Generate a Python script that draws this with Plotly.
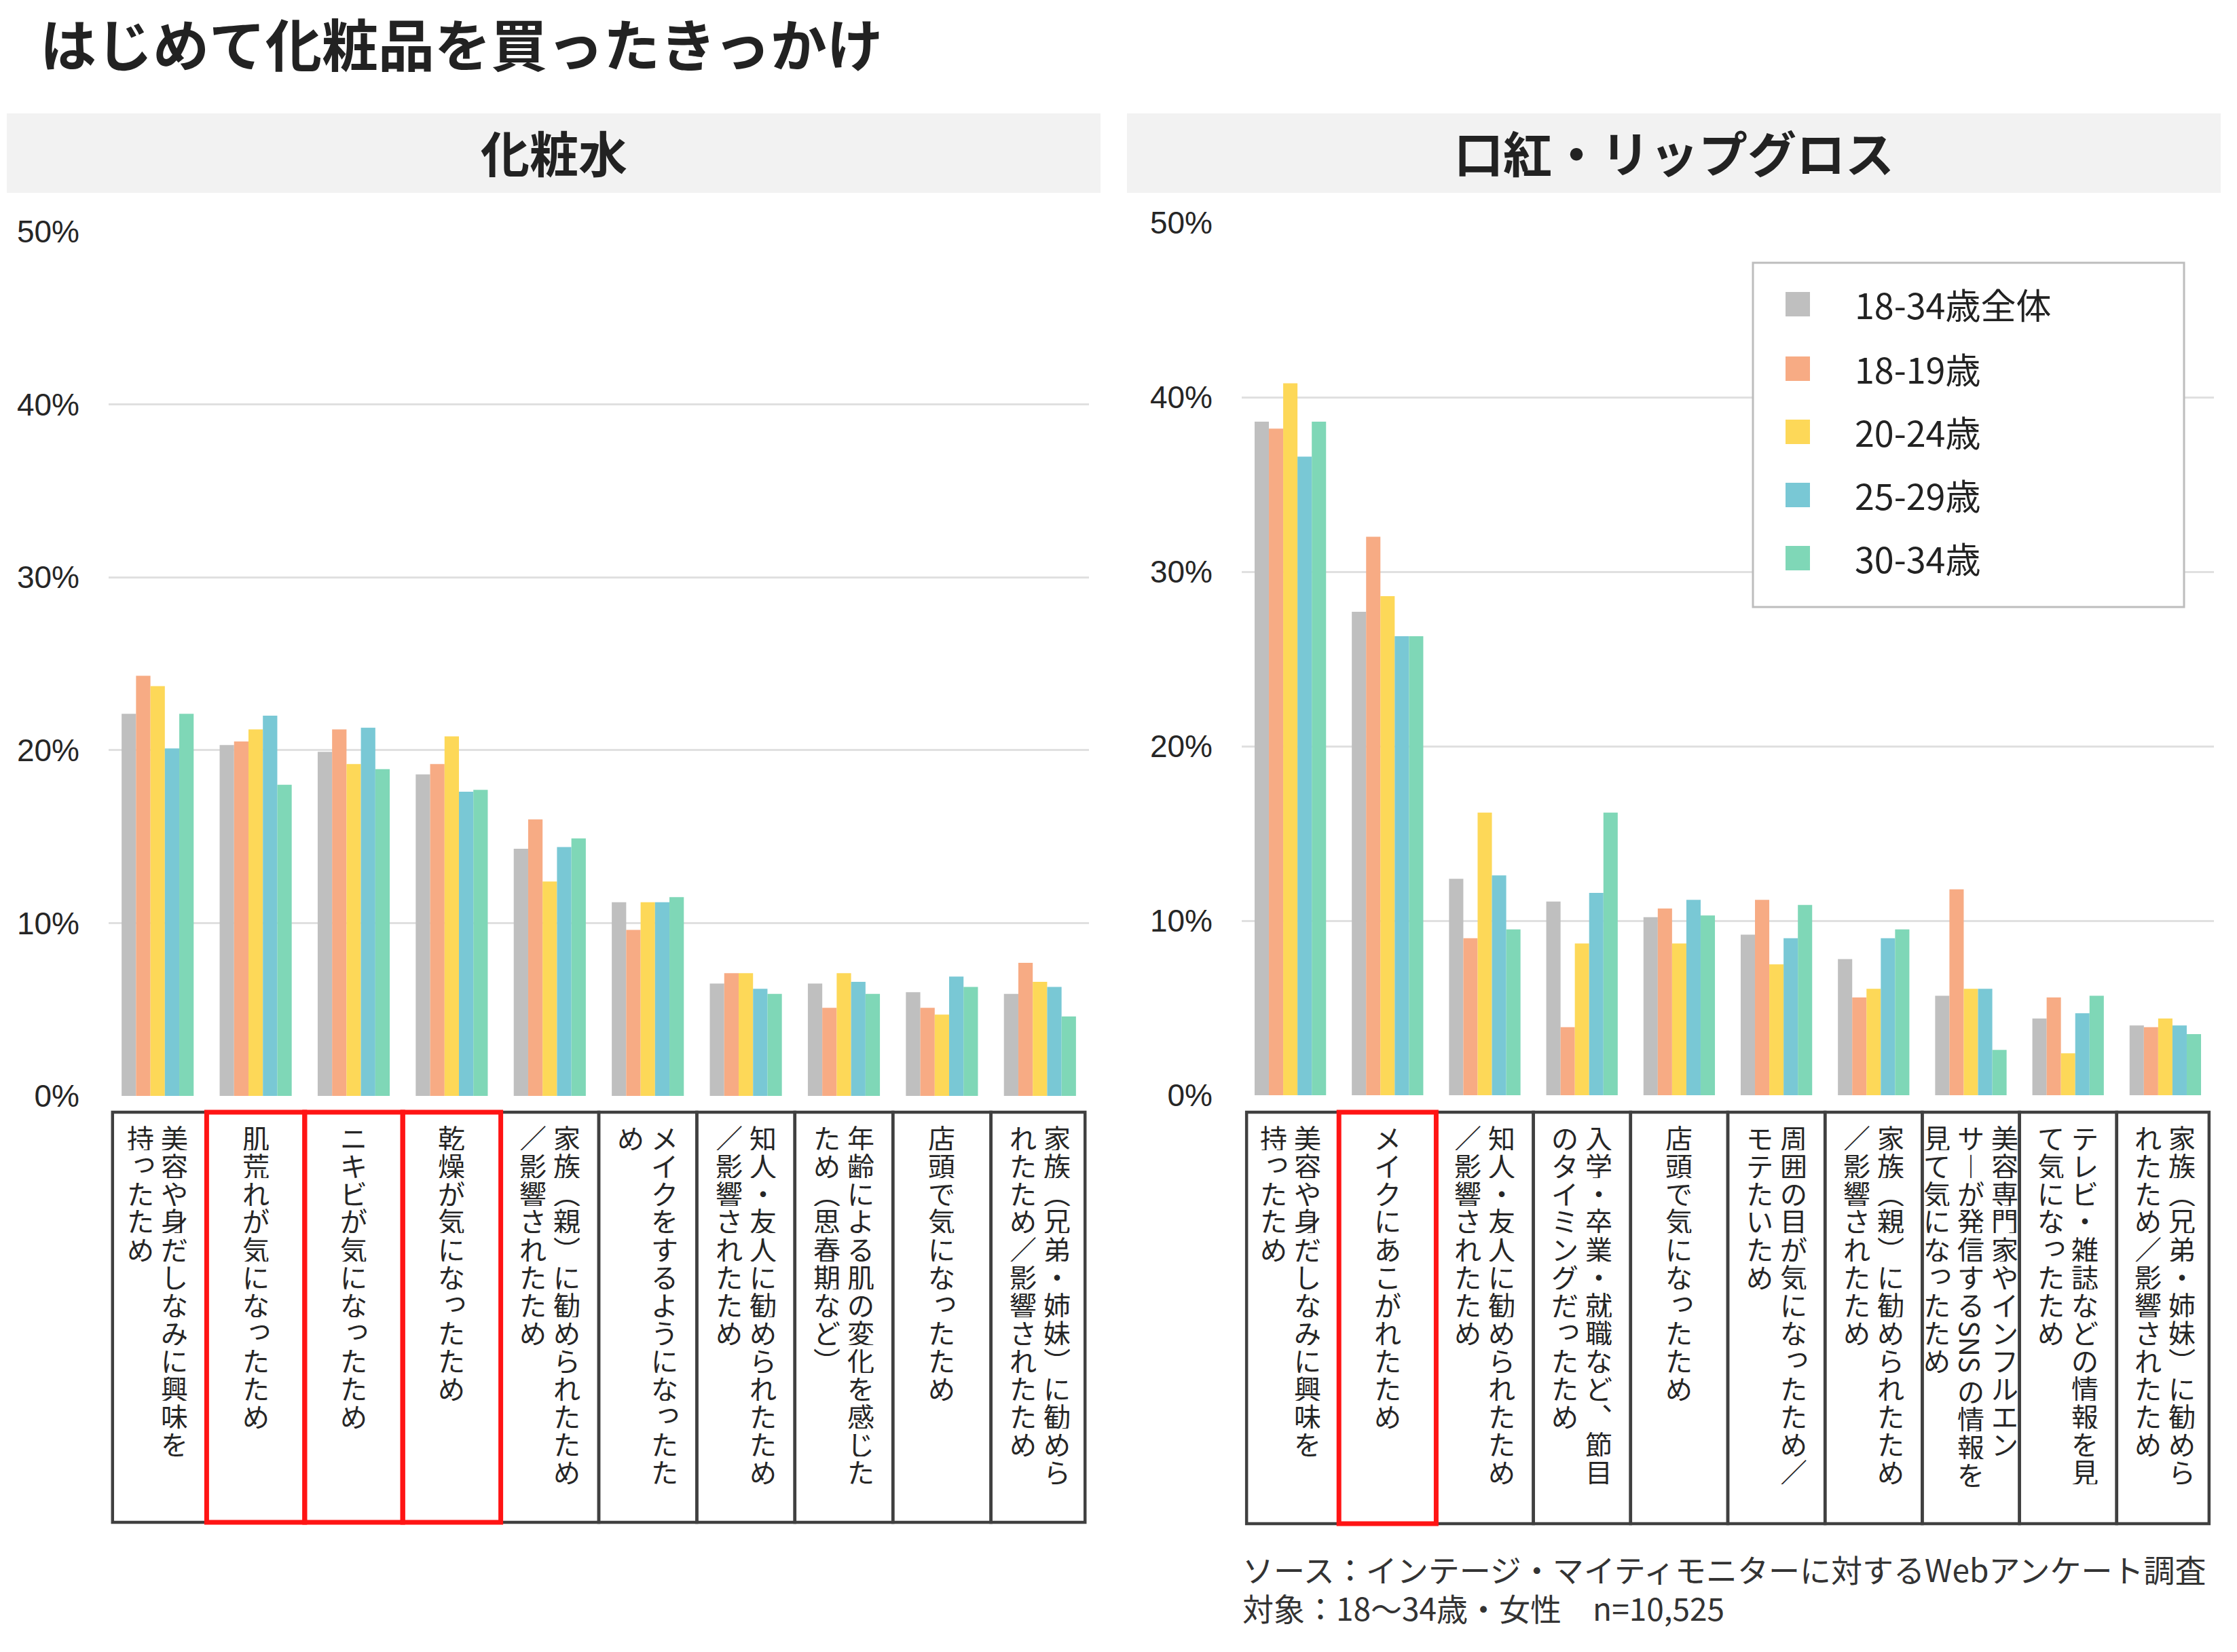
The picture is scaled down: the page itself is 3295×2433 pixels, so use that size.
import plotly.graph_objects as go

# ---------------- data ----------------
series_names = ["18-34歳全体", "18-19歳", "20-24歳", "25-29歳", "30-34歳"]
series_colors = ["#bfbfbf", "#f7ab84", "#fdd858", "#79c8d5", "#7fd7b7"]

left_title = "化粧水"
right_title = "口紅・リップグロス"

left_categories = [
    "美容や身だしなみに興味を\n持ったため",
    "肌荒れが気になったため",
    "ニキビが気になったため",
    "乾燥が気になったため",
    "家族（親）に勧められたため\n／影響されたため",
    "メイクをするようになったた\nめ",
    "知人・友人に勧められたため\n／影響されたため",
    "年齢による肌の変化を感じた\nため（思春期など）",
    "店頭で気になったため",
    "家族（兄弟・姉妹）に勧めら\nれたため／影響されたため",
]
right_categories = [
    "美容や身だしなみに興味を\n持ったため",
    "メイクにあこがれたため",
    "知人・友人に勧められたため\n／影響されたため",
    "入学・卒業・就職など、節目\nのタイミングだったため",
    "店頭で気になったため",
    "周囲の目が気になったため／\nモテたいため",
    "家族（親）に勧められたため\n／影響されたため",
    "美容専門家やインフルエン\nサーが発信するSNSの情報を\n見て気になったため",
    "テレビ・雑誌などの情報を見\nて気になったため",
    "家族（兄弟・姉妹）に勧めら\nれたため／影響されたため",
]

left_all   = [22.1, 20.3, 19.9, 18.6, 14.3, 11.2, 6.5, 6.5, 6.0, 5.9]
left_1819  = [24.3, 20.5, 21.2, 19.2, 16.0, 9.6, 7.1, 5.1, 5.1, 7.7]
left_2024  = [23.7, 21.2, 19.2, 20.8, 12.4, 11.2, 7.1, 7.1, 4.7, 6.6]
left_2529  = [20.1, 22.0, 21.3, 17.6, 14.4, 11.2, 6.2, 6.6, 6.9, 6.3]
left_3034  = [22.1, 18.0, 18.9, 17.7, 14.9, 11.5, 5.9, 5.9, 6.3, 4.6]

right_all  = [38.6, 27.7, 12.4, 11.1, 10.2, 9.2, 7.8, 5.7, 4.4, 4.0]
right_1819 = [38.2, 32.0, 9.0, 3.9, 10.7, 11.2, 5.6, 11.8, 5.6, 3.9]
right_2024 = [40.8, 28.6, 16.2, 8.7, 8.7, 7.5, 6.1, 6.1, 2.4, 4.4]
right_2529 = [36.6, 26.3, 12.6, 11.6, 11.2, 9.0, 9.0, 6.1, 4.7, 4.0]
right_3034 = [38.6, 26.3, 9.5, 16.2, 10.3, 10.9, 9.5, 2.6, 5.7, 3.5]

left_highlight = [1, 2, 3]
right_highlight = [1]

tick_values = [0, 10, 20, 30, 40, 50]
tick_labels = ["0%", "10%", "20%", "30%", "40%", "50%"]

chart_title = "はじめて化粧品を買ったきっかけ"
source_lines = [
    "ソース：インテージ・マイティモニターに対するWebアンケート調査",
    "対象：18～34歳・女性　n=10,525",
]

# ---------------- layout helpers ----------------
W, H = 3295, 2433
JP = "Noto Sans CJK JP"
TXT = "#262626"


def px(x):
    return x / W


def py(y):
    return 1 - y / H


fig = go.Figure()

left_x = [c.replace("\n", "") for c in left_categories]
right_x = [c.replace("\n", "") for c in right_categories]
left_vals = [left_all, left_1819, left_2024, left_2529, left_3034]
right_vals = [right_all, right_1819, right_2024, right_2529, right_3034]

for name, color, vals in zip(series_names, series_colors, left_vals):
    fig.add_trace(go.Bar(x=left_x, y=vals, name=name, marker_color=color,
                         marker_line_width=0, xaxis="x", yaxis="y", showlegend=False))
for name, color, vals in zip(series_names, series_colors, right_vals):
    fig.add_trace(go.Bar(x=right_x, y=vals, name=name, marker_color=color,
                         marker_line_width=0, xaxis="x2", yaxis="y2", showlegend=False))

yax = dict(range=[0, 50], tickvals=tick_values, ticktext=tick_labels,
           showgrid=True, gridcolor="#e0e0e0", gridwidth=3, zeroline=False,
           showline=False, ticks="", ticklabelstandoff=42,
           tickfont=dict(family="Liberation Sans", size=46, color="#262626"),
           automargin=False, fixedrange=True)
xax = dict(type="category", range=[-0.5, 9.5], showticklabels=False, showgrid=False,
           zeroline=False, showline=False, ticks="", automargin=False, fixedrange=True)

L_X0, L_X1, L_Y0, L_Y50 = 160, 1604, 1614, 341
R_X0, R_X1, R_Y0, R_Y50 = 1829, 3261, 1613, 328

fig.update_layout(
    width=W, height=H, margin=dict(l=0, r=0, t=0, b=0),
    paper_bgcolor="white", plot_bgcolor="white",
    barmode="group", bargap=0.265, bargroupgap=0,
    xaxis=dict(xax, domain=[px(L_X0), px(L_X1)], anchor="y"),
    yaxis=dict(yax, domain=[py(L_Y0), py(L_Y50)], anchor="x"),
    xaxis2=dict(xax, domain=[px(R_X0), px(R_X1)], anchor="y2"),
    yaxis2=dict(yax, domain=[py(R_Y0), py(R_Y50)], anchor="x2"),
)

shapes = []
annotations = []

# title
annotations.append(dict(text=chart_title, x=px(57), y=py(62), xref="paper", yref="paper",
                        xanchor="left", yanchor="middle", showarrow=False, height=100,
                        font=dict(family=JP, size=83, color="#222222", weight="bold")))

# panel headers
for (x0, x1, t) in [(10, 1621, left_title), (1660, 3271, right_title)]:
    shapes.append(dict(type="rect", xref="paper", yref="paper", x0=px(x0), x1=px(x1),
                       y0=py(284), y1=py(167), fillcolor="#f2f2f2", line_width=0, layer="below"))
    annotations.append(dict(text=t, x=px((x0 + x1) / 2), y=py(222), xref="paper", yref="paper",
                            xanchor="center", yanchor="middle", showarrow=False,
                            font=dict(family=JP, size=72, color="#222222", weight="bold")))

# vertical text mapping
VMAP = {"（": "︵", "）": "︶", "ー": "︱", "、": "︑"}
SMALL = set("っゃゅょァィゥェォッャュョ")
P = 41      # character pitch (px)
COLSP = 50  # column spacing (px)


def add_table(cats, xref, top, bottom, highlight, edge):
    n = len(cats)
    yr0, yr1 = py(bottom), py(top)
    for i in range(n):
        x0 = i - 0.5 if i > 0 else -0.5 + edge
        x1 = i + 0.5 if i < n - 1 else n - 0.5 - edge
        shapes.append(dict(type="rect", xref=xref, yref="paper", x0=x0, x1=x1, y0=yr0, y1=yr1,
                           line=dict(color="#404040", width=4.5), fillcolor="rgba(0,0,0,0)"))
    for i in highlight:
        x0 = i - 0.5 if i > 0 else -0.5 + edge
        x1 = i + 0.5 if i < n - 1 else n - 0.5 - edge
        shapes.append(dict(type="rect", xref=xref, yref="paper", x0=x0, x1=x1, y0=yr0, y1=yr1,
                           line=dict(color="#ff1414", width=7), fillcolor="rgba(0,0,0,0)"))
    y0 = top + 36 - P / 2
    for i, cat in enumerate(cats):
        cols = cat.split("\n")
        nc = len(cols)
        for k, col in enumerate(cols):
            off = ((nc - 1) / 2 - k) * COLSP
            pos = 0.0
            j = 0
            while j < len(col):
                ch = col[j]
                if ch.isascii() and ch.isalpha():
                    run = ch
                    while j + 1 < len(col) and col[j + 1].isascii() and col[j + 1].isalpha():
                        j += 1
                        run += col[j]
                    L = len(run) * 0.7
                    cy = y0 + (pos + L / 2) * P
                    annotations.append(dict(text=run, x=i, y=py(cy), xref=xref, yref="paper",
                                            xshift=off, xanchor="center", yanchor="middle",
                                            textangle=90, showarrow=False,
                                            width=int(L * P) - 2, height=40, borderpad=0,
                                            font=dict(family=JP, size=40, color=TXT)))
                    pos += L
                else:
                    cy = y0 + (pos + 0.5) * P
                    a = dict(text=VMAP.get(ch, ch), x=i, y=py(cy), xref=xref, yref="paper",
                             xshift=off, xanchor="center", yanchor="middle", showarrow=False,
                             width=42, height=P - 2, borderpad=0,
                             font=dict(family=JP, size=40, color=TXT))
                    if ch in SMALL:
                        a["xshift"] = off + 5
                        a["yshift"] = 7
                    annotations.append(a)
                    pos += 1
                j += 1


add_table(left_categories, "x", 1638, 2242, left_highlight, 0.04)
add_table(right_categories, "x2", 1638, 2244, right_highlight, 0.05)

# custom legend
shapes.append(dict(type="rect", xref="paper", yref="paper", x0=px(2582), x1=px(3217),
                   y0=py(894), y1=py(387), line=dict(color="#bdbdbd", width=3), fillcolor="white"))
leg_rows = [448, 543, 636, 729, 822]
for name, color, yy in zip(series_names, series_colors, leg_rows):
    shapes.append(dict(type="rect", xref="paper", yref="paper", x0=px(2630), x1=px(2666),
                       y0=py(yy + 18), y1=py(yy - 18), line_width=0, fillcolor=color))
    annotations.append(dict(text=name, x=px(2730), y=py(yy), xref="paper", yref="paper",
                            xanchor="left", yanchor="middle", showarrow=False,
                            font=dict(family=JP, size=52, color="#222222")))

# source
for t, yy in zip(source_lines, [2310, 2367]):
    annotations.append(dict(text=t, x=px(1828), y=py(yy), xref="paper", yref="paper",
                            xanchor="left", yanchor="middle", showarrow=False,
                            font=dict(family=JP, size=46, color="#333333")))

fig.update_layout(shapes=shapes, annotations=annotations)
fig.write_html("out.html", config={"displayModeBar": False},
               post_script="document.body.style.margin='0';document.body.style.overflow='hidden';")
